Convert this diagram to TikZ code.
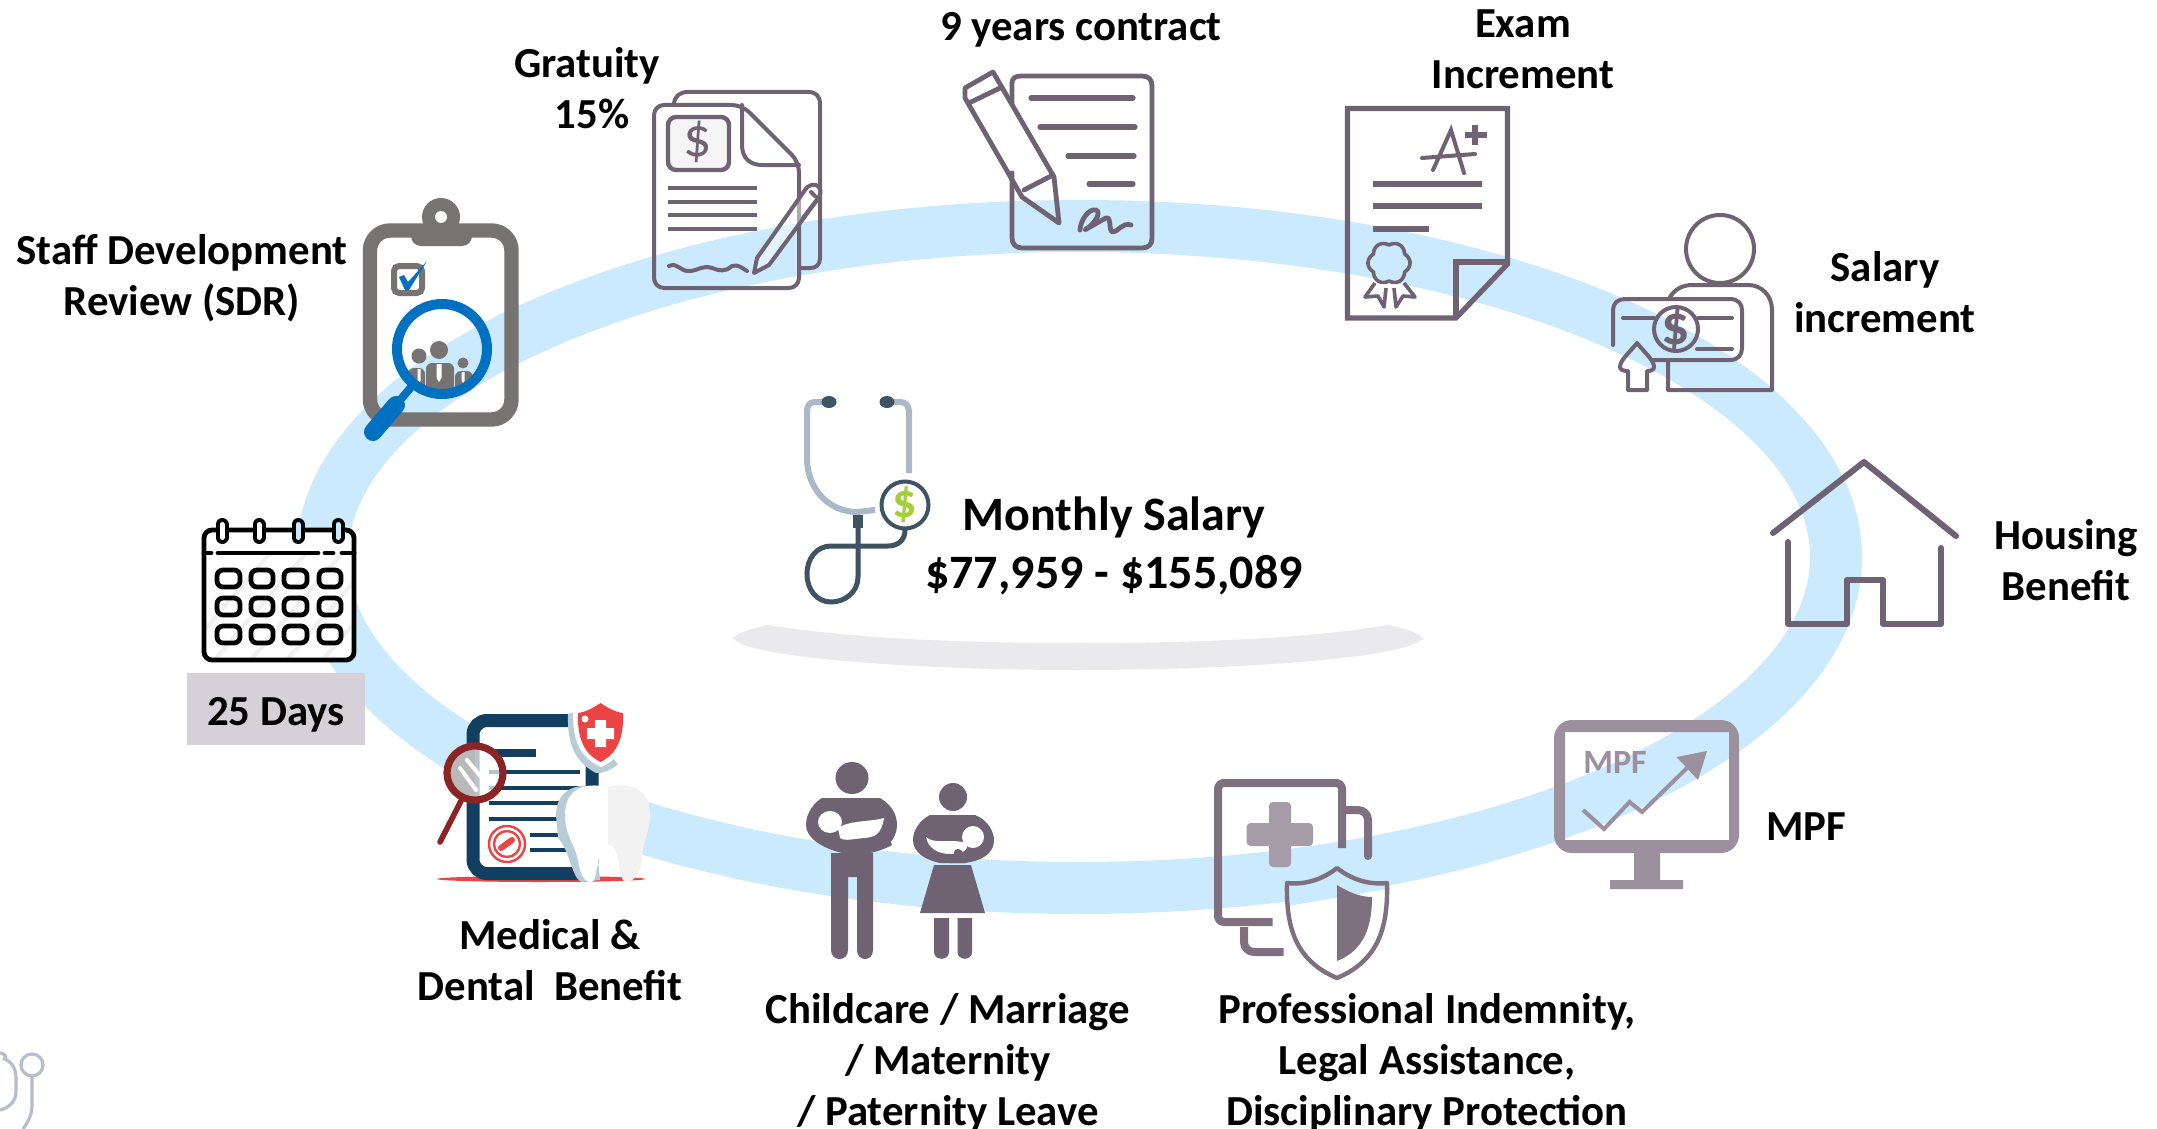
\documentclass[tikz,border=0pt]{standalone}
\usepackage{fontspec}
\setmainfont{Carlito}
\definecolor{band}{HTML}{CBEAFE}
\definecolor{ic}{HTML}{6F6273}
\definecolor{icg}{HTML}{777373}
\definecolor{lb}{HTML}{0070C0}
\definecolor{mon}{HTML}{9D909E}
\definecolor{shd}{HTML}{7F7080}
\definecolor{crs}{HTML}{A59CA8}
\definecolor{navy}{HTML}{123E5F}
\definecolor{redd}{HTML}{EC4344}
\definecolor{mag}{HTML}{8B2525}
\definecolor{sdw}{HTML}{B8CCD8}
\definecolor{sdk}{HTML}{3F5362}
\definecolor{sgr}{HTML}{ABB8C7}
\definecolor{lim}{HTML}{A5CF3A}
\definecolor{plat}{HTML}{EAE9EB}
\definecolor{dbox}{HTML}{D6D1D9}
\definecolor{logo}{HTML}{B8BCCB}
\tikzset{
 lab/.style={font=\fontsize{21.4}{25.5}\selectfont\bfseries,align=center,inner sep=0pt,text=black},
 big/.style={font=\fontsize{24}{29}\selectfont\bfseries,align=center,inner sep=0pt,text=black},
 ln/.style={draw=ic,line width=2pt,line cap=round,line join=round},
 cal/.style={draw=black,line width=2.4pt,line cap=round,line join=round},
}
\begin{document}
\begin{tikzpicture}[x=0.5pt,y=-0.5pt]
\useasboundingbox (0,0) rectangle (2157,1129);
\fill[white] (0,0) rectangle (2157,1129);
% ring
\draw[band,line width=26pt] (1079,557) ellipse [x radius=757,y radius=331];
% platform
\fill[plat] (733,638) .. controls (738,632) and (755,628) .. (768,625) .. controls (860,640) and (980,643) .. (1078,643) .. controls (1180,643) and (1300,640) .. (1388,625) .. controls (1402,628) and (1418,632) .. (1423,638) .. controls (1410,658) and (1240,670) .. (1078,670) .. controls (920,670) and (745,658) .. (733,638) -- cycle;
% logo bottom-left
\begin{scope}[draw=logo,line width=1.6pt]
\draw (32,1065) circle [radius=11];
\draw (32,1076) -- (32,1105) .. controls (32,1115) and (28,1122) .. (23,1129);
\draw (3,1058) .. controls (12,1062) and (16,1068) .. (16,1078) -- (16,1092) .. controls (16,1102) and (8,1108) .. (0,1110);
\draw (0,1053) .. controls (4,1053) and (7,1056) .. (5,1060);
\end{scope}
% clipboard
\begin{scope}
\draw[icg,line width=7.2pt,rounded corners=10pt] (370,230.5) rectangle (511.5,419.5);
\fill[icg,even odd rule] (441,217) circle [radius=19] (441,217) circle [radius=6];
\fill[icg,rounded corners=5pt] (411,225) -- (472,225) -- (472,246) -- (411,246) -- cycle;
\fill[icg] (423,210) rectangle (459,226);
\fill[white] (441,217) circle [radius=6];
\draw[icg,line width=3pt,rounded corners=2.5pt] (394,266) rectangle (422,293);
\fill[lb] (399,277) -- (404,275) -- (408,282) -- (427,261) -- (409,290) -- (405,290) -- cycle;
\begin{scope}
\clip (442,349) circle [radius=42];
\fill[icg] (439,350) circle [radius=9];
\fill[icg,rounded corners=3pt] (426,363) rectangle (454,395);
\fill[icg] (419,356) circle [radius=7.5];
\fill[icg,rounded corners=3pt] (408,368) rectangle (425,395);
\fill[icg] (463,363) circle [radius=5.5];
\fill[icg,rounded corners=3pt] (455,371) rectangle (473,395);
\fill[white] (436.5,364) -- (441.5,364) -- (441.5,378) -- (439,382) -- (436.5,378) -- cycle;
\fill[white] (417.5,369) -- (420.5,369) -- (420.5,381) -- (419,383) -- (417.5,381) -- cycle;
\fill[white] (461.5,372) -- (464.5,372) -- (464.5,381) -- (463,383) -- (461.5,381) -- cycle;
\end{scope}
\draw[lb,line width=5pt] (442,349) circle [radius=45];
\draw[lb,line width=4pt] (412,386) -- (396,405);
\draw[lb,line width=9pt,line cap=round] (396,405) -- (373,432);
\end{scope}
% gratuity doc
\begin{scope}[draw=ic,line width=2pt,line join=round,line cap=round]
\draw (674,105) .. controls (674,96) and (680,92) .. (688,92) -- (808,92) .. controls (816,92) and (820,96) .. (820,104) -- (820,258) .. controls (820,265) and (816,268) .. (810,268) -- (799,268);
\draw[rounded corners=5pt] (654,105) -- (742,105) -- (799,162) -- (799,288) -- (654,288) -- cycle;
\draw (742,105) -- (742,145) .. controls (742,158) and (750,165) .. (762,165) -- (799,165);
\draw[fill=gray!8,line width=2.2pt,rounded corners=4pt] (668,117) rectangle (729,170);
\node[text=ic,font=\fontsize{28}{28}\selectfont] (gdollar) at (698,142) {\$};
\draw[line width=2.4pt,line cap=butt] (668,188) -- (757,188) (668,202) -- (757,202) (668,215) -- (757,215) (668,229) -- (757,229);
\draw (669,266) .. controls (678,262) and (680,272) .. (690,271) .. controls (700,270) and (702,265) .. (712,268) .. controls (720,271) and (725,272) .. (732,266) .. controls (738,264) and (742,268) .. (747,271);
\draw[fill=white,fill opacity=.45] (754,273) -- (757,258) -- (805,190) .. controls (809,184) and (815,183) .. (819,187) .. controls (822,192) and (820,196) .. (817,200) -- (769,265) -- cycle;
\draw (811,192) -- (815,196) (803,218) -- (819,197);
\end{scope}
% contract
\begin{scope}[draw=ic,line width=2.4pt,line join=round,line cap=round]
\draw (1012,103) -- (1012,84) .. controls (1012,77) and (1016,76) .. (1022,76) -- (1142,76) .. controls (1149,76) and (1152,80) .. (1152,86) -- (1152,238) .. controls (1152,244) and (1149,248) .. (1142,248) -- (1022,248) .. controls (1016,248) and (1012,244) .. (1012,238) -- (1012,173);
\draw[line width=2.6pt] (1031,98) -- (1133,98) (1040,127) -- (1135,127) (1068,156) -- (1134,156) (1089,184) -- (1133,184);
\draw (993,72) -- (965,88) -- (965,98) -- (1022,197) -- (1059,223) -- (1054,177) -- cycle;
\draw (969,103) -- (1000,88) (1024,190) -- (1053,175);
\draw[line width=2.4pt] (1080,230) .. controls (1080,222) and (1088,208) .. (1096,210) .. controls (1102,212) and (1094,225) .. (1086,229) .. controls (1082,232) and (1098,222) .. (1106,218) .. controls (1112,216) and (1108,232) .. (1113,232) .. controls (1118,232) and (1122,222) .. (1131,225);
\end{scope}
% exam cert
\begin{scope}[draw=ic,line width=2.6pt,line join=miter]
\draw (1347.5,108.5) -- (1507.5,108.5) -- (1507.5,264) -- (1456,318) -- (1347.5,318) -- cycle;
\draw (1456,318) -- (1456,262) -- (1507.5,262);
\draw[line width=3pt] (1373,184) -- (1482,184) (1373,206) -- (1482,206) (1373,229) -- (1429,229);
\draw[line width=2pt,line cap=round] (1433,170) -- (1451,130) -- (1464,173) (1422,158) -- (1475,154);
\draw[line width=2.6pt] (1465,135) -- (1487,135) (1475,125) -- (1475,145);
\draw[line width=1.8pt] plot[domain=0:360,samples=90,smooth] ({1389+(18+3*abs(cos(3*\x)))*cos(\x)},{263+(18+3*abs(cos(3*\x)))*sin(\x)}) -- cycle;
\draw[line width=1.8pt,line join=round] (1375,283) -- (1365,297) -- (1378,296) -- (1384,307) -- (1386,288);
\draw[line width=1.8pt,line join=round] (1404,283) -- (1415,297) -- (1403,296) -- (1396,307) -- (1394,288);
\end{scope}
% salary increment
\begin{scope}[draw=ic,line width=2pt,line join=round,line cap=round]
\draw (1720,249) circle [radius=34];
\draw (1670,297) .. controls (1675,289) and (1683,285) .. (1692,285) -- (1748,285) .. controls (1762,285) and (1772,296) .. (1772,310) -- (1772,390) -- (1668,390) -- (1668,360);
\draw (1613,345) -- (1613,310) .. controls (1613,303) and (1618,299) .. (1625,299) -- (1730,299) .. controls (1738,299) and (1742,304) .. (1742,310) -- (1742,348) .. controls (1742,355) and (1738,360) .. (1730,360) -- (1652,360);
\draw (1676,329) circle [radius=22];
\draw (1623,318) -- (1654,318) (1698,318) -- (1732,318) (1697,349) -- (1732,349);
\draw (1637,343) .. controls (1630,352) and (1620,360) .. (1620,367) .. controls (1620,370) and (1624,371) .. (1628,371) -- (1628,390) -- (1647,390) -- (1647,371) .. controls (1651,371) and (1654,370) .. (1654,367) .. controls (1654,360) and (1644,352) .. (1637,343) -- cycle;
\node[text=ic,font=\fontsize{28}{28}\selectfont\bfseries] (sdollar) at (1676,329) {\$};
\end{scope}
% house
\draw[ln,line width=3pt] (1773,533) -- (1864,462) -- (1956,536);
\draw[ln,line width=3pt] (1788,542) -- (1788,624) -- (1847,624) -- (1847,580) -- (1883,580) -- (1883,624) -- (1941,624) -- (1941,548);
% MPF monitor
\fill[mon,even odd rule,rounded corners=9pt] (1554,720) rectangle (1739,853) [sharp corners] (1565,732) rectangle (1729,840);
\fill[mon] (1634,853) rectangle (1660,880) (1610,880) rectangle (1683,889);
\node[text=mon,font=\fontsize{17}{17}\selectfont\bfseries,inner sep=0pt] (mpficon) at (1615,762) {MPF};
\draw[mon,line width=2pt] (1583,810) -- (1604,829) -- (1629.5,802) -- (1642,812) -- (1687,768);
\fill[mon] (1707,751) -- (1676.5,757) -- (1698,780) -- cycle;
% legal doc
\begin{scope}[draw=shd,line width=4pt,line join=round]
\draw[rounded corners=3pt] (1272.5,922) -- (1218,922) -- (1218,783) -- (1342,783) -- (1342,848);
\draw[rounded corners=5pt,line cap=round] (1346,810) -- (1368,810) -- (1368,856);
\draw[rounded corners=5pt] (1244,927) -- (1244,952) -- (1283.6,952);
\fill[crs,rounded corners=2pt] (1269,802) rectangle (1291,867) (1246.6,823) rectangle (1313,846);
\fill[white] (1337,868) .. controls (1352,880) and (1370,885) .. (1387,883) .. controls (1388,925) and (1380,960) .. (1337,978) .. controls (1294,960) and (1286,925) .. (1287,883) .. controls (1304,885) and (1322,880) .. (1337,868) -- cycle;
\fill[band] (1337,868) .. controls (1352,880) and (1370,885) .. (1387,883) -- (1387,889) -- (1288,906) -- (1287,883) .. controls (1304,885) and (1322,880) .. (1337,868) -- cycle;
\draw[line width=2.2pt] (1337,868) .. controls (1352,880) and (1370,885) .. (1387,883) .. controls (1388,925) and (1380,960) .. (1337,978) .. controls (1294,960) and (1286,925) .. (1287,883) .. controls (1304,885) and (1322,880) .. (1337,868) -- cycle;
\fill[shd] (1337,885) .. controls (1348,892) and (1360,897) .. (1372,897) .. controls (1372,925) and (1365,950) .. (1337,961) -- cycle;
\end{scope}
% medical
\fill[redd] (541,879) ellipse [x radius=104,y radius=3];
\draw[navy,line width=6.5pt,rounded corners=7pt,fill=white] (473,720.5) rectangle (592,873.5);
\draw[navy,line width=4pt] (495,753) -- (536,753);
\draw[navy,line width=2pt] (489,772) -- (580,772) (489,788) -- (580,788) (489,803) -- (566,803) (489,819) -- (566,819) (530,835) -- (574,835) (530,850) -- (574,850);
\draw[redd,line width=1.2pt] (507,844) circle [radius=18];
\draw[redd,line width=1.2pt] (507,844) circle [radius=13];
\draw[redd,line width=3pt,line cap=round] (501,848) -- (512,840);
% magnifier
\begin{scope}
\clip (475,773) ellipse [x radius=28,y radius=27];
\fill[white,opacity=.7] (475,740) rectangle (505,806);
\fill[gray!55] (447,740) rectangle (475,806);
\end{scope}
\draw[white,line width=2pt,line cap=round] (460,768) -- (476,790) (467,760) -- (487,784);
\draw[mag,line width=3.6pt] (475,773) ellipse [x radius=28,y radius=27];
\draw[mag,line width=2.8pt,line cap=round] (461,801) -- (440,842);
% dental shield
\fill[sdw] (596,699) .. controls (587,706) and (577,712) .. (568,714) .. controls (567,744) and (575,762) .. (596,773) .. controls (603,773) and (612,770) .. (618,764) -- (596,740) -- cycle;
\fill[white] (601,695) .. controls (610,702) and (620,708) .. (629,710) .. controls (630,740) and (622,758) .. (601,767) .. controls (580,758) and (572,740) .. (573,710) .. controls (582,708) and (592,702) .. (601,695) -- cycle;
\fill[redd] (600.5,703) .. controls (608,708) and (615,712) .. (623,713) .. controls (624,740) and (616,754) .. (600.5,762) .. controls (585,754) and (577,740) .. (578,713) .. controls (586,712) and (593,708) .. (600.5,703) -- cycle;
\fill[white] (595,720) rectangle (606,747) (587,728) rectangle (614,739);
\fill[white] (585,719) circle [radius=3.5];
% tooth
\fill[sdw] (556,815) .. controls (556,795) and (570,784) .. (590,786) -- (600,880) -- (582,882) .. controls (572,880) and (570,850) .. (558,838) -- cycle;
\fill[white] (608,787) .. controls (590,783) and (565,785) .. (565,815) .. controls (565,835) and (575,845) .. (578,860) .. controls (580,875) and (585,883) .. (592,882) .. controls (598,880) and (597,843) .. (608,843) -- cycle;
\fill[gray!10] (608,787) .. controls (625,783) and (650,785) .. (650,815) .. controls (650,835) and (642,840) .. (642,860) .. controls (640,875) and (632,883) .. (625,882) .. controls (618,880) and (620,843) .. (608,843) -- cycle;
% family
\begin{scope}[fill=ic]
\fill (852,778) ellipse [x radius=16.5,y radius=16];
\fill (822,798) -- (880,798) .. controls (892,805) and (897,815) .. (897,825) .. controls (897,840) and (885,850) .. (870,853) -- (842,853) .. controls (822,848) and (806,838) .. (806,825) .. controls (806,812) and (815,802) .. (822,798) -- cycle;
\fill (831,853) -- (873,853) -- (873,950) .. controls (873,962) and (857,962) .. (857,950) -- (857,877) -- (848,877) -- (848,950) .. controls (848,962) and (831,962) .. (831,950) -- cycle;
\fill[white] (830,822) ellipse [x radius=12,y radius=11];
\fill[white] (838,828) .. controls (850,820) and (870,822) .. (884,818) .. controls (882,830) and (878,836) .. (868,838) .. controls (855,838) and (845,842) .. (840,838) -- cycle;
\fill (847,842) .. controls (860,838) and (875,838) .. (887,832) -- (892,845) .. controls (880,852) and (860,856) .. (850,853) .. controls (844,850) and (843,845) .. (847,842) -- cycle;
\fill (953,797) circle [radius=14];
\fill (930,815) -- (975,815) .. controls (988,820) and (994,832) .. (994,840) .. controls (994,852) and (985,860) .. (965,863) -- (940,863) .. controls (925,860) and (913,852) .. (913,840) .. controls (913,830) and (920,820) .. (930,815) -- cycle;
\fill[white] (973,837) circle [radius=11];
\fill[white] (926,837) .. controls (935,845) and (950,838) .. (966,843) .. controls (970,850) and (962,854) .. (950,854) .. controls (938,854) and (928,848) .. (926,837) -- cycle;
\fill (955,850) .. controls (962,846) and (966,856) .. (965,863) -- (950,863) -- cycle;
\fill (934,865) -- (971,865) -- (985,913) -- (920,913) -- cycle;
\fill (934,918) -- (949,918) -- (949,952) .. controls (949,961) and (934,961) .. (934,952) -- cycle;
\fill (957.5,918) -- (972,918) -- (972,952) .. controls (972,961) and (957.5,961) .. (957.5,952) -- cycle;
\end{scope}
% calendar
\fill[white] (204,530) rectangle (354,660);
\begin{scope}
\clip (204,555) rectangle (354,660);
\foreach \k in {0,36,...,288}{\draw[gray!12,line width=2pt] (\k+170,670) -- (\k+290,530);}
\end{scope}
\draw[cal,rounded corners=4pt] (204,530) rectangle (354,660);
\draw[cal] (204,553) -- (211,553) (218,553) -- (318,553) (325,553) -- (333,553) (342,553) -- (354,553);
\foreach \cx/\cc in {222/white,259/white,298/band,338/band}{
 \draw[black,line width=6.5pt,line cap=round] (\cx,524.5) -- (\cx,537.5);
 \draw[\cc,line width=2.5pt,line cap=round] (\cx,524.5) -- (\cx,537.5);}
\foreach \ya/\yb in {570/587,598/615,626/643}{
 \foreach \xa/\xb in {217/240,251/273,284/307,319/341}{
  \draw[cal,rounded corners=3pt] (\xa,\ya) rectangle (\xb,\yb);}}
% 25 days
\fill[dbox] (187,673) rectangle (365,745);
% stethoscope
\draw[sgr,line width=3pt] (823,402) -- (815,402) .. controls (809,402) and (807,406) .. (807,412) -- (807,458) .. controls (807,490) and (830,512) .. (857,512) -- (875,510);
\draw[sgr,line width=3pt] (893,402) -- (900,402) .. controls (906,402) and (909,406) .. (909,412) -- (909,473);
\fill[sdk] (829,402) ellipse [x radius=7.5,y radius=6];
\fill[sdk] (887,402) ellipse [x radius=7.5,y radius=6];
\fill[sdk] (853,515) rectangle (863,528);
\draw[sdk,line width=2.5pt] (858,527) -- (858,577) .. controls (858,592) and (845,602) .. (831,602) .. controls (817,602) and (807,590) .. (807,574) .. controls (807,558) and (817,546) .. (831,546) -- (888,546) .. controls (898,546) and (905,540) .. (905,530);
\draw[sdk,line width=2pt] (905,505) circle [radius=23.5];
\node[text=lim,font=\fontsize{24}{24}\selectfont\bfseries,inner sep=0pt] (steth) at (905,505) {\$};
% labels
\node[lab] (sdr) at (182,278) {Staff Development\\Review (SDR)};
\node[lab] (grat) at (587,88) {Gratuity\\\hspace*{5pt}15\%};
\node[lab] (cont) at (1081,30) {9 years contract};
\node[lab] (exam) at (1523,49) {Exam\\Increment};
\node[lab] (sal) at (1885,292) {Salary\\increment};
\node[lab] (hous) at (2066,560) {Housing\\Benefit};
\node[lab] (mpf) at (1806,827) {MPF};
\node[lab] (prof) at (1427,1063) {Professional Indemnity,\\Legal Assistance,\\Disciplinary Protection};
\node[lab] (child) at (948,1063) {Childcare / Marriage\\/ Maternity\\/ Paternity Leave};
\node[lab] (med) at (550,960) {Medical \&\\Dental\ \ Benefit};
\node[lab] (days) at (276,715) {25 Days};
\node[big] (sal2) at (1114,546) {Monthly Salary\\\$77,959 - \$155,089};
\end{tikzpicture}
\end{document}
